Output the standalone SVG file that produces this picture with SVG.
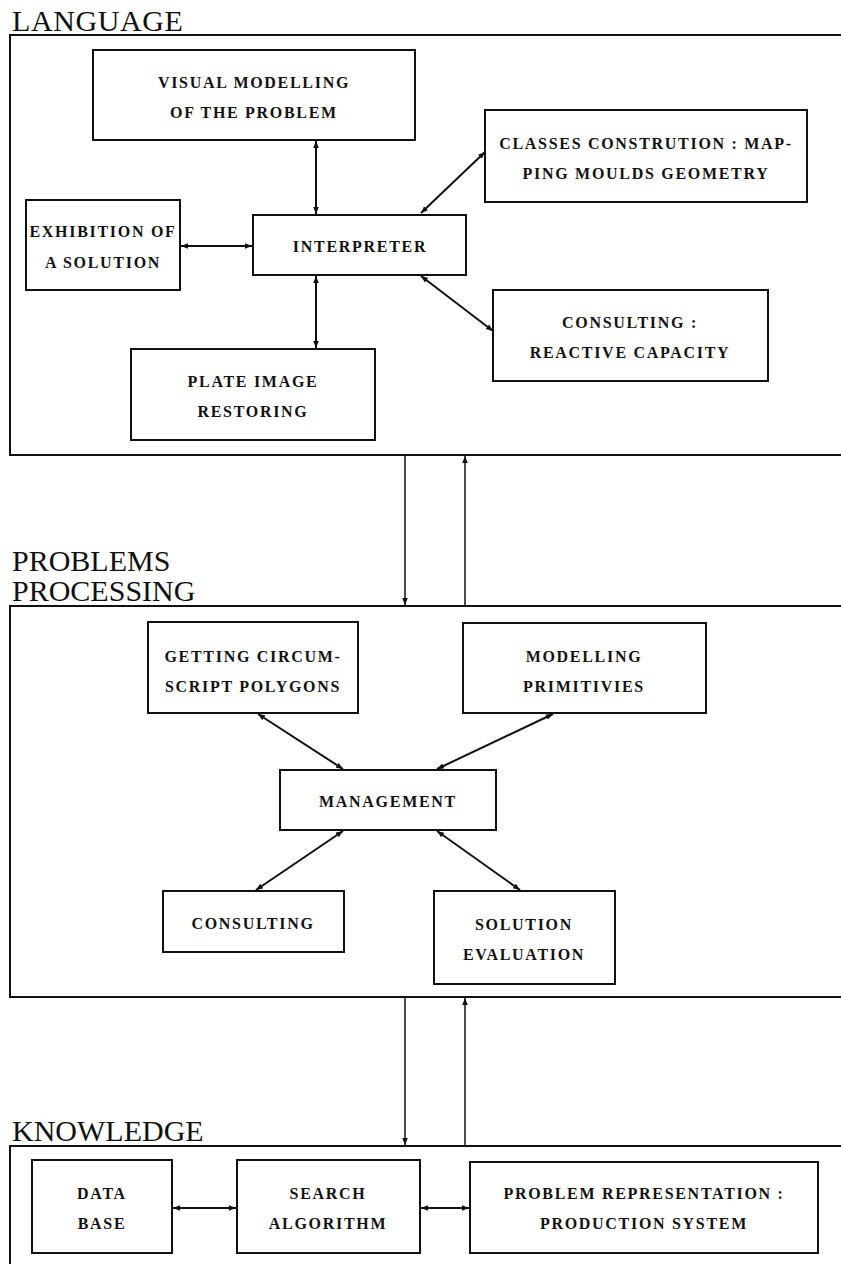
<svg xmlns="http://www.w3.org/2000/svg" width="841" height="1264" viewBox="0 0 841 1264">
<style>
.title{font-family:"Liberation Serif","Times New Roman",serif;font-size:30px;fill:#111}
.box{fill:#fff;stroke:#111;stroke-width:2}
.cont{fill:none;stroke:#111;stroke-width:2}
.lbl{font-family:"Liberation Serif","Times New Roman",serif;font-size:16px;font-weight:bold;letter-spacing:1.7px;fill:#111;text-anchor:middle}
.c{stroke:#111;stroke-width:2;fill:none;marker-start:url(#ah);marker-end:url(#ah)}
.c1{stroke:#111;stroke-width:1.5;fill:none;marker-end:url(#ah)}
</style>
<defs>
<marker id="ah" viewBox="0 0 10 10" refX="10" refY="5" markerWidth="7" markerHeight="7" markerUnits="userSpaceOnUse" orient="auto-start-reverse">
<path d="M0,1 L10,5 L0,9 Z" fill="#111"/>
</marker>
</defs>
<rect width="841" height="1264" fill="#fff"/>

<g id="language">
<text class="title" x="12" y="31" letter-spacing="0.6">LANGUAGE</text>
<rect class="cont" x="10" y="35" width="840" height="420"/>
</g>
<g id="visual"><rect class="box" x="93" y="50" width="322" height="90"/>
<text class="lbl" x="254" y="88">VISUAL MODELLING</text><text class="lbl" x="254" y="118">OF THE PROBLEM</text></g>
<g id="classes"><rect class="box" x="485" y="110" width="322" height="92"/>
<text class="lbl" x="646" y="149">CLASSES CONSTRUTION : MAP-</text><text class="lbl" x="646" y="179">PING MOULDS GEOMETRY</text></g>
<g id="exhibition"><rect class="box" x="26" y="200" width="154" height="90"/>
<text class="lbl" x="103" y="237">EXHIBITION OF</text><text class="lbl" x="103" y="268">A SOLUTION</text></g>
<g id="interpreter"><rect class="box" x="253" y="215" width="213" height="60"/>
<text class="lbl" x="360" y="252">INTERPRETER</text></g>
<g id="consulting1"><rect class="box" x="493" y="290" width="275" height="91"/>
<text class="lbl" x="630" y="328">CONSULTING :</text><text class="lbl" x="630" y="358">REACTIVE CAPACITY</text></g>
<g id="plate"><rect class="box" x="131" y="349" width="244" height="91"/>
<text class="lbl" x="253" y="387">PLATE IMAGE</text><text class="lbl" x="253" y="417">RESTORING</text></g>

<g id="problems">
<text class="title" x="12" y="571">PROBLEMS</text>
<text class="title" x="12" y="601">PROCESSING</text>
<rect class="cont" x="10" y="606" width="840" height="391"/>
</g>
<g id="getting"><rect class="box" x="148" y="622" width="210" height="91"/>
<text class="lbl" x="253" y="662">GETTING CIRCUM-</text><text class="lbl" x="253" y="692">SCRIPT POLYGONS</text></g>
<g id="modelling"><rect class="box" x="463" y="623" width="243" height="90"/>
<text class="lbl" x="584" y="662">MODELLING</text><text class="lbl" x="584" y="692">PRIMITIVIES</text></g>
<g id="management"><rect class="box" x="280" y="770" width="216" height="60"/>
<text class="lbl" x="388" y="807">MANAGEMENT</text></g>
<g id="consulting2"><rect class="box" x="163" y="891" width="181" height="61"/>
<text class="lbl" x="253" y="929">CONSULTING</text></g>
<g id="solution"><rect class="box" x="434" y="891" width="181" height="93"/>
<text class="lbl" x="524" y="930">SOLUTION</text><text class="lbl" x="524" y="960">EVALUATION</text></g>

<g id="knowledge">
<text class="title" x="12" y="1141">KNOWLEDGE</text>
<rect class="cont" x="10" y="1146" width="840" height="130"/>
</g>
<g id="database"><rect class="box" x="32" y="1160" width="140" height="93"/>
<text class="lbl" x="102" y="1199">DATA</text><text class="lbl" x="102" y="1229">BASE</text></g>
<g id="search"><rect class="box" x="237" y="1160" width="183" height="93"/>
<text class="lbl" x="328" y="1199">SEARCH</text><text class="lbl" x="328" y="1229">ALGORITHM</text></g>
<g id="representation"><rect class="box" x="470" y="1162" width="348" height="91"/>
<text class="lbl" x="644" y="1199">PROBLEM REPRESENTATION :</text><text class="lbl" x="644" y="1229">PRODUCTION SYSTEM</text></g>

<g id="connectors">
<line class="c" x1="316" y1="141" x2="316" y2="214"/>
<line class="c" x1="421" y1="213" x2="485" y2="152"/>
<line class="c" x1="181" y1="246" x2="252" y2="246"/>
<line class="c" x1="421" y1="276" x2="493" y2="331"/>
<line class="c" x1="316" y1="276" x2="316" y2="348"/>
<line class="c1" x1="405" y1="456" x2="405" y2="605"/>
<line class="c1" x1="465" y1="605" x2="465" y2="456"/>
<line class="c" x1="258" y1="714" x2="343" y2="769"/>
<line class="c" x1="553" y1="714" x2="437" y2="769"/>
<line class="c" x1="343" y1="831" x2="256" y2="890"/>
<line class="c" x1="437" y1="831" x2="520" y2="890"/>
<line class="c1" x1="405" y1="998" x2="405" y2="1145"/>
<line class="c1" x1="465" y1="1145" x2="465" y2="998"/>
<line class="c" x1="173" y1="1208" x2="236" y2="1208"/>
<line class="c" x1="421" y1="1208" x2="469" y2="1208"/>
</g>
</svg>
